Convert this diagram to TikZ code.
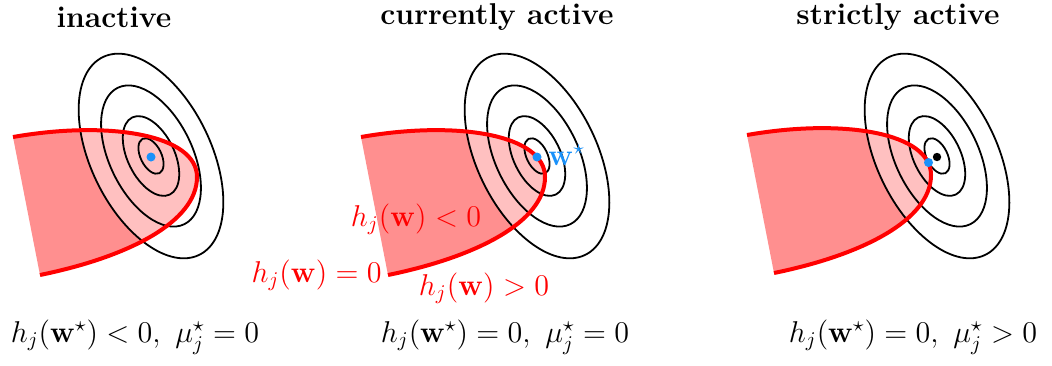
\documentclass[tikz,border=0pt]{standalone}
\usepackage{amsmath}
\definecolor{regdark}{RGB}{255,143,143}
\definecolor{reglight}{RGB}{255,192,192}
\definecolor{wblue}{RGB}{25,145,250}
\newcommand{\regionpath}{(0,0) .. controls (97,-17) and (184,-2) .. (184,40) .. controls (184,85) and (115,120) .. (27,138)}
\tikzset{
  ring/.style={draw=black, line width=0.9pt},
  redline/.style={draw=red, line width=2pt},
  big/.style={font=\Large, scale=1.045, inner sep=0pt},
  title/.style={big, font=\Large\bfseries},
  formula/.style={big},
  redlabel/.style={big, text=red},
  bluedot/.style={circle, fill=wblue, inner sep=0pt, minimum size=4.5pt},
  blackdot/.style={circle, fill=black, inner sep=0pt, minimum size=4.2pt},
}
\newcommand{\panel}[4]{%
  % #1,#2 region corner ; #3,#4 ellipse centre
  \coordinate (c) at (#3,#4);
  \begin{scope}[shift={(#1,#2)}]
    \fill[regdark] \regionpath -- cycle;
  \end{scope}
  \begin{scope}
    \clip[shift={(#1,#2)}] \regionpath -- cycle;
    \fill[reglight, rotate around={-64:(c)}] (c) ellipse (110 and 60);
  \end{scope}
  \foreach \s in {1,0.69,0.39,0.174}
    \draw[ring, rotate around={-64:(c)}] (c) ellipse ({110*\s} and {60*\s});
  \begin{scope}[shift={(#1,#2)}]
    \draw[redline] \regionpath;
  \end{scope}
}
\begin{document}
\begin{tikzpicture}[x=0.5pt, y=-0.5pt]
\useasboundingbox (0,0) rectangle (1052,365);

% titles
\node[title] (t1) at (114,17) {inactive};
\node[title] (t2) at (497,17) {currently active};
\node[title] (t3) at (898,17) {strictly active};

% panel 1
\panel{13}{137}{151}{156}
\node[bluedot] (w1) at (151,157) {};

% panel 2
\panel{361}{137}{537}{156}
\node[bluedot] (w2) at (537,157) {};
\node[big, anchor=west, text=wblue] (ws) at (548,155) {$\mathbf{w}^\star$};
\node[redlabel] (lneg) at (416,219) {$h_j(\mathbf{w})<0$};
\node[redlabel, anchor=east] (lzero) at (382,275) {$h_j(\mathbf{w})=0$};
\node[redlabel] (lpos) at (484,288) {$h_j(\mathbf{w})>0$};

% panel 3
\panel{747}{135}{937}{156}
\node[blackdot] (m3) at (937,157) {};
\node[bluedot] (w3) at (928.5,162.5) {};

% bottom formulas
\node[formula] (f1) at (135,337) {$h_j(\mathbf{w}^\star)<0,\ \mu_j^\star=0$};
\node[formula] (f2) at (505,337) {$h_j(\mathbf{w}^\star)=0,\ \mu_j^\star=0$};
\node[formula] (f3) at (913,337) {$h_j(\mathbf{w}^\star)=0,\ \mu_j^\star>0$};
\end{tikzpicture}
\end{document}
